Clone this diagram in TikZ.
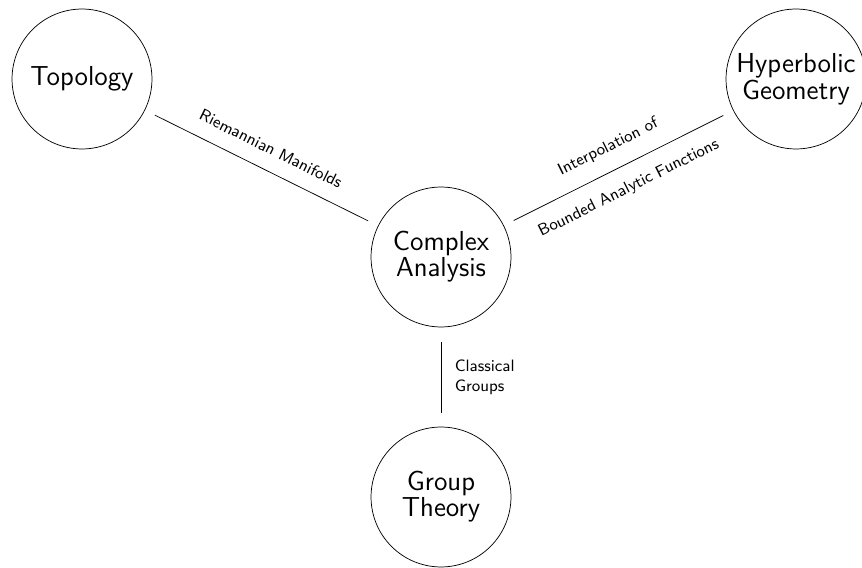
\documentclass[tikz,border=0pt]{standalone}
\usetikzlibrary{positioning}

\begin{document}
\begin{tikzpicture}[
    x=0.546pt, y=-0.546pt,
    field/.style={circle, draw, minimum size=76.4pt, inner sep=0pt, align=center, font=\sffamily\fontsize{15pt}{12pt}\selectfont},
    link/.style={shorten >=6pt, shorten <=6pt},
    lbl/.style={font=\sffamily\small, sloped}
]
\useasboundingbox (0,0) rectangle (862,568);

\node[field] (topo) at (82,79) {Topology};
\node[field] (hyper) at (796,79) {Hyperbolic\\Geometry};
\node[field] (cplx) at (441,257) {Complex\\Analysis};
\node[field] (group) at (441,497) {Group\\Theory};

\draw[link] (topo) -- node[lbl, above=5pt] {Riemannian Manifolds} (cplx);
\draw[link] (cplx) -- node[lbl, above=5pt] {Interpolation of}
                      node[lbl, below=5pt] {Bounded Analytic Functions} (hyper);
\draw[link, shorten >=7.5pt, shorten <=8pt] (cplx) -- node[font=\sffamily\small, align=left, right=4pt] {Classical\\Groups} (group);

\end{tikzpicture}
\end{document}
